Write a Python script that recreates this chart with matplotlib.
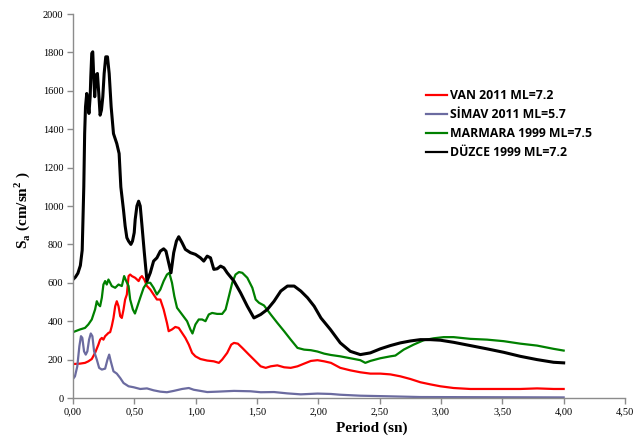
import matplotlib
matplotlib.use("Agg")
import matplotlib.pyplot as plt
from matplotlib.ticker import FixedLocator

# ---------------- data ----------------
van_T = [0.000, 0.057, 0.098, 0.125, 0.153, 0.180, 0.207, 0.221, 0.235, 0.248,
         0.262, 0.275, 0.289, 0.303, 0.316, 0.330, 0.344, 0.357, 0.371, 0.385,
         0.398, 0.412, 0.425, 0.439, 0.453, 0.466, 0.480, 0.507, 0.535, 0.548,
         0.562, 0.581, 0.603, 0.630, 0.657, 0.684, 0.712, 0.739, 0.766, 0.780,
         0.807, 0.834, 0.862, 0.889, 0.916, 0.944, 0.971, 0.998, 1.039, 1.094,
         1.148, 1.189, 1.216, 1.257, 1.290, 1.312, 1.344, 1.380, 1.434, 1.489,
         1.530, 1.571, 1.612, 1.666, 1.721, 1.775, 1.830, 1.884, 1.939, 1.993,
         2.048, 2.103, 2.179, 2.261, 2.342, 2.424, 2.505, 2.587, 2.668, 2.750,
         2.832, 2.913, 2.995, 3.103, 3.239, 3.375, 3.511, 3.647, 3.783, 3.918,
         4.000]
van_Sa = [177, 179, 183, 191, 203, 235, 278, 304, 313, 304,
          322, 330, 339, 343, 374, 417, 478, 504, 478, 426,
          417, 461, 513, 539, 635, 643, 635, 626, 609, 626,
          635, 617, 583, 565, 539, 513, 513, 461, 391, 348,
          357, 370, 365, 339, 313, 278, 235, 217, 203, 195,
          191, 183, 200, 235, 278, 287, 283, 261, 226, 191,
          165, 157, 165, 170, 160, 157, 165, 179, 193, 197,
          191, 183, 157, 144, 134, 127, 127, 123, 113, 99,
          82, 71, 61, 52, 47, 47, 47, 47, 50, 47,
          47]

simav_T = [0.000, 0.016, 0.035, 0.052, 0.065, 0.076, 0.090, 0.104, 0.117, 0.131,
           0.145, 0.158, 0.172, 0.194, 0.213, 0.235, 0.262, 0.281, 0.295, 0.308,
           0.330, 0.357, 0.385, 0.412, 0.453, 0.494, 0.548, 0.603, 0.657, 0.712,
           0.766, 0.821, 0.889, 0.944, 0.984, 1.039, 1.094, 1.175, 1.312, 1.448,
           1.530, 1.639, 1.748, 1.857, 1.993, 2.103, 2.179, 2.342, 2.560, 2.830,
           4.000]
simav_Sa = [99, 113, 165, 270, 322, 313, 243, 226, 243, 304,
            336, 322, 243, 200, 157, 148, 153, 200, 226, 191,
            139, 127, 104, 78, 61, 56, 47, 50, 40, 33,
            30, 37, 47, 52, 43, 37, 31, 33, 37, 35,
            30, 31, 24, 19, 23, 21, 17, 12, 9, 5,
            3]

marmara_T = [0.000, 0.057, 0.098, 0.125, 0.153, 0.180, 0.194, 0.207, 0.221, 0.235,
             0.248, 0.262, 0.275, 0.289, 0.303, 0.316, 0.344, 0.371, 0.398, 0.417,
             0.434, 0.453, 0.466, 0.488, 0.505, 0.521, 0.548, 0.576, 0.603, 0.630,
             0.657, 0.684, 0.712, 0.739, 0.766, 0.785, 0.807, 0.826, 0.848, 0.889,
             0.930, 0.957, 0.974, 0.998, 1.025, 1.053, 1.080, 1.107, 1.134, 1.175,
             1.216, 1.244, 1.271, 1.298, 1.325, 1.353, 1.380, 1.421, 1.462, 1.489,
             1.516, 1.557, 1.612, 1.666, 1.721, 1.775, 1.830, 1.884, 1.939, 1.993,
             2.048, 2.103, 2.179, 2.261, 2.342, 2.383, 2.424, 2.505, 2.587, 2.628,
             2.696, 2.777, 2.859, 2.940, 3.022, 3.103, 3.239, 3.375, 3.511, 3.647,
             3.783, 3.918, 4.000]
marmara_Sa = [343, 357, 365, 383, 409, 461, 504, 487, 478, 522,
              591, 609, 591, 617, 600, 583, 574, 591, 583, 635,
              609, 583, 513, 461, 440, 470, 522, 574, 600, 600,
              574, 539, 565, 609, 643, 652, 600, 530, 470, 435,
              400, 357, 336, 383, 409, 409, 400, 435, 443, 438,
              438, 461, 530, 600, 643, 656, 652, 626, 574, 513,
              496, 482, 435, 391, 348, 304, 261, 252, 249, 242,
              231, 224, 217, 207, 197, 183, 193, 207, 217, 221,
              252, 278, 301, 311, 317, 317, 308, 304, 296, 283,
              273, 256, 247]

duzce_T = [0.000, 0.020, 0.040, 0.060, 0.075, 0.088, 0.095, 0.102, 0.112, 0.120,
           0.130, 0.140, 0.145, 0.153, 0.161, 0.169, 0.177, 0.188, 0.199, 0.210,
           0.221, 0.232, 0.243, 0.254, 0.267, 0.281, 0.295, 0.311, 0.330, 0.357,
           0.376, 0.390, 0.412, 0.425, 0.439, 0.453, 0.472, 0.485, 0.499, 0.507,
           0.521, 0.535, 0.548, 0.562, 0.581, 0.603, 0.630, 0.657, 0.684, 0.712,
           0.739, 0.758, 0.780, 0.799, 0.821, 0.843, 0.862, 0.889, 0.916, 0.957,
           0.998, 1.039, 1.066, 1.094, 1.121, 1.148, 1.175, 1.203, 1.230, 1.257,
           1.312, 1.366, 1.421, 1.475, 1.530, 1.584, 1.639, 1.694, 1.748, 1.803,
           1.857, 1.912, 1.966, 2.021, 2.098, 2.179, 2.261, 2.342, 2.424, 2.505,
           2.587, 2.668, 2.750, 2.832, 2.913, 2.995, 3.103, 3.239, 3.375, 3.511,
           3.647, 3.783, 3.918, 4.000]
duzce_Sa = [617, 630, 650, 690, 770, 1100, 1377, 1517, 1586, 1551,
            1482, 1569, 1673, 1795, 1803, 1673, 1569, 1682, 1690, 1586,
            1473, 1500, 1569, 1690, 1777, 1777, 1690, 1517, 1377, 1325,
            1273, 1099, 977, 896, 835, 817, 800, 817, 861, 930,
            1000, 1025, 1000, 900, 760, 609, 652, 713, 730, 765,
            777, 765, 704, 652, 757, 817, 840, 809, 774, 757,
            748, 730, 713, 739, 730, 670, 673, 687, 678, 652,
            609, 548, 478, 417, 435, 461, 504, 557, 583, 583,
            557, 522, 478, 417, 357, 287, 243, 226, 235, 256,
            273, 287, 297, 304, 304, 301, 290, 273, 256, 238,
            217, 200, 186, 183]

labels = ["VAN 2011 ML=7.2", "SİMAV 2011 ML=5.7", "MARMARA 1999 ML=7.5", "DÜZCE 1999 ML=7.2"]
colors = ["#ff0000", "#6b6ba0", "#008000", "#000000"]

x_ticks = [0.0, 0.5, 1.0, 1.5, 2.0, 2.5, 3.0, 3.5, 4.0, 4.5]
x_tick_labels = ["0,00", "0,50", "1,00", "1,50", "2,00", "2,50", "3,00", "3,50", "4,00", "4,50"]
y_ticks = list(range(0, 2001, 200))

# ---------------- plot ----------------
plt.rcParams["mathtext.fontset"] = "custom"
plt.rcParams["mathtext.rm"] = "Liberation Serif"
plt.rcParams["mathtext.bf"] = "Liberation Serif:bold"

W, H = 641, 441
fig = plt.figure(figsize=(W / 100, H / 100), dpi=100)
ax = fig.add_axes([73 / W, 1 - 398 / H, 552 / W, 384 / H])

series = [(van_T, van_Sa), (simav_T, simav_Sa), (marmara_T, marmara_Sa), (duzce_T, duzce_Sa)]
widths = [1.6, 1.6, 1.6, 2.2]
for (t, s), lab, c, lw in zip(series, labels, colors, widths):
    ax.plot(t, s, color=c, lw=lw, label=lab, solid_joinstyle="round")

ax.set_xlim(0, 4.5)
ax.set_ylim(0, 2000)
ax.xaxis.set_major_locator(FixedLocator(x_ticks))
ax.set_xticklabels(x_tick_labels)
ax.set_yticks(y_ticks)

for sp in ["top", "right"]:
    ax.spines[sp].set_visible(False)
for sp in ["left", "bottom"]:
    ax.spines[sp].set_color("#8c8c8c")
    ax.spines[sp].set_linewidth(1.0)
ax.tick_params(axis="both", direction="out", length=4, width=1, color="#8c8c8c",
               labelsize=7.5, pad=3)
for lbl in ax.get_xticklabels() + ax.get_yticklabels():
    lbl.set_family("Liberation Serif")

ax.set_xlabel("Period (sn)", family="Liberation Serif", fontweight="bold", fontsize=11)
ax.xaxis.set_label_coords((372 - 73) / 552, -0.06)
ax.set_ylabel(r"S$_{\mathbf{a}}$ (cm/sn$^{\mathbf{2}}$ )", family="Liberation Serif",
              fontweight="bold", fontsize=11)
ax.yaxis.set_label_coords(-0.075, 0.49)

leg = ax.legend(loc="upper left", bbox_to_anchor=(426 / W, 1 - 89 / H),
                bbox_transform=fig.transFigure, frameon=False, borderpad=0,
                borderaxespad=0, handlelength=1.75, handletextpad=0.2, labelspacing=0.5,
                prop={"family": "Open Sans", "weight": "bold", "size": 8.8})
for line in leg.get_lines():
    line.set_linewidth(1.6)

fig.savefig("out.png", dpi=100)
